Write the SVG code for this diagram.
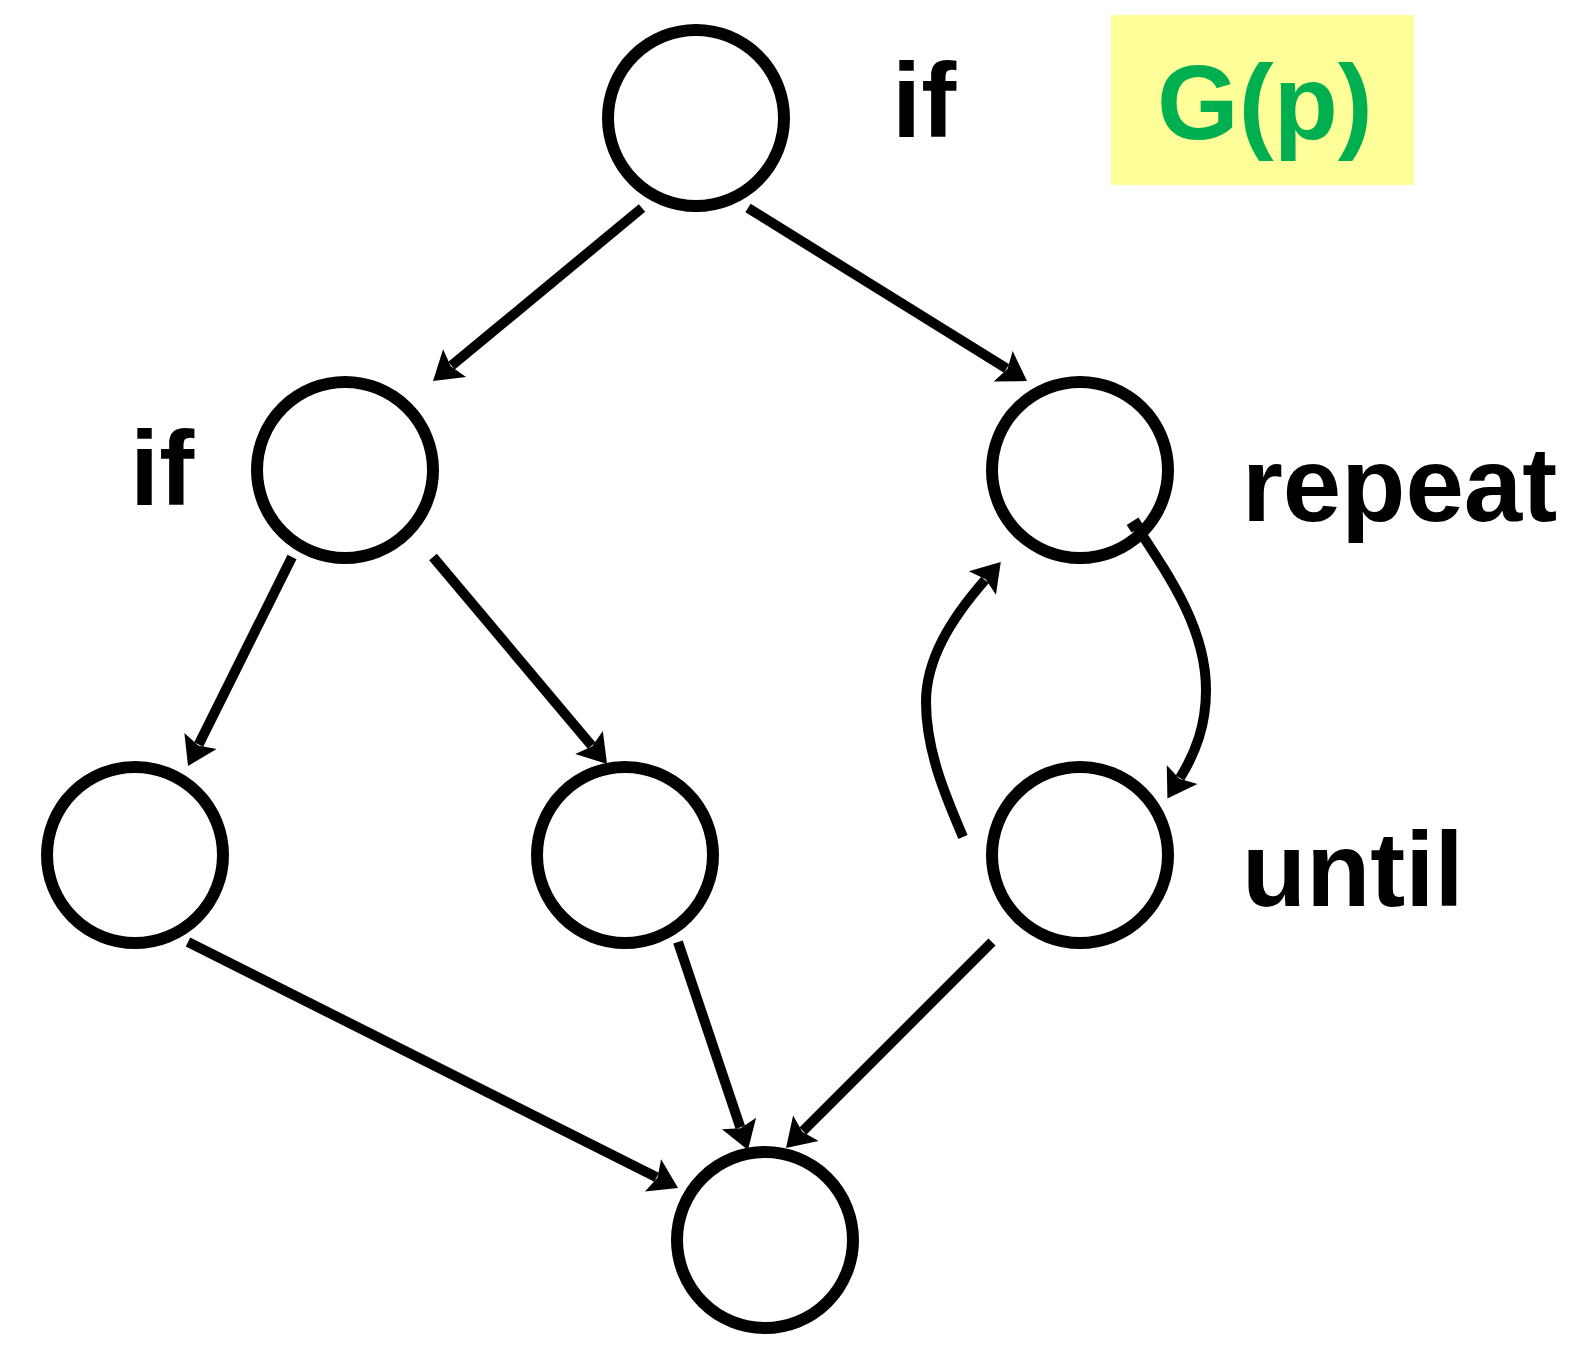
<svg xmlns="http://www.w3.org/2000/svg" width="1573" height="1348" viewBox="0 0 1573 1348">
<style>
.node{fill:#fff;stroke:#000;stroke-width:12}
.edge{fill:none;stroke:#000;stroke-width:10;stroke-linecap:butt}
.lbl{font-family:"Liberation Sans",Arial,sans-serif;font-weight:bold;font-size:105px;fill:#000}
.title{font-family:"Liberation Sans",Arial,sans-serif;font-weight:bold;font-size:105px;fill:#00B050}
</style>
<defs>
<marker id="arr" markerUnits="userSpaceOnUse" markerWidth="40" markerHeight="40" viewBox="-2 -20 34 40" refX="4" refY="0" orient="auto">
<path d="M0,-18 L28,0 L0,18 L5,0 Z" fill="#000"/>
</marker>
</defs>
<rect x="1111" y="15" width="303" height="170" fill="#FFFF99"/>
<text class="title" x="1157" y="139">G(p)</text>
<g id="n1"><circle class="node" cx="696" cy="118" r="88"/></g>
<g id="n2"><circle class="node" cx="345" cy="470" r="88"/></g>
<g id="n3"><circle class="node" cx="1080" cy="470" r="88"/></g>
<g id="n4"><circle class="node" cx="135" cy="855" r="88"/></g>
<g id="n5"><circle class="node" cx="625" cy="855" r="88"/></g>
<g id="n6"><circle class="node" cx="1080" cy="855" r="88"/></g>
<g id="n7"><circle class="node" cx="765" cy="1240" r="88"/></g>
<g id="connectors">
<path class="edge" d="M642,208 L451.5,365.7" marker-end="url(#arr)"/>
<path class="edge" d="M748,208 L1006.6,368.4" marker-end="url(#arr)"/>
<path class="edge" d="M292,557 L198.7,744.5" marker-end="url(#arr)"/>
<path class="edge" d="M433,557 L591.6,745.6" marker-end="url(#arr)"/>
<path class="edge" d="M188,942 L656.6,1177.2" marker-end="url(#arr)"/>
<path class="edge" d="M678,942 L740.3,1127.3" marker-end="url(#arr)"/>
<path class="edge" d="M992,942 L803,1131" marker-end="url(#arr)"/>
<path class="edge" d="M1135,524 C1172,580 1206,630 1206,690 C1206,725 1196,752 1180,778" marker-end="url(#arr)"/>
<rect x="-7" y="-4.5" width="14" height="9" fill="#000" transform="translate(1135,525) rotate(-33)"/>
<path class="edge" d="M963,837 C945,795 926,750 926,702 C926,660 950,620 985,580" marker-end="url(#arr)"/>
</g>
<text class="lbl" x="892" y="137">if</text>
<text class="lbl" x="130" y="505">if</text>
<text class="lbl" x="1242" y="521">repeat</text>
<text class="lbl" x="1242" y="906">until</text>
</svg>
